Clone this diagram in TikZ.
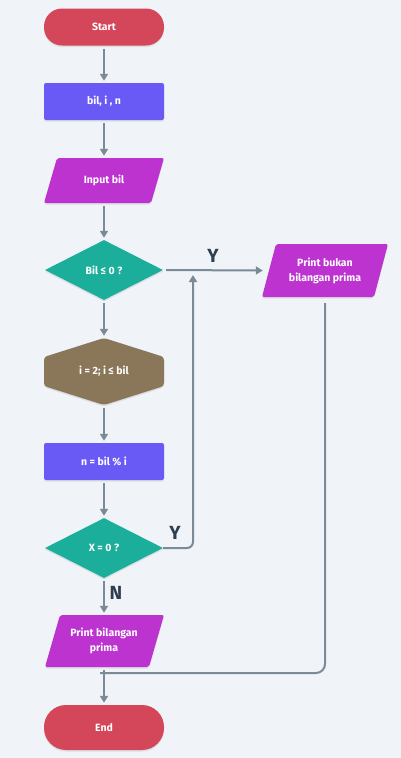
\documentclass[tikz,border=0pt]{standalone}
\usepackage{fontspec}
\setmainfont{Fira Sans}
\usetikzlibrary{shapes.geometric,arrows.meta,shadows}
\definecolor{bgc}{HTML}{F0F4F8}
\definecolor{termc}{HTML}{D4465A}
\definecolor{procc}{HTML}{6A5AF5}
\definecolor{ioc}{HTML}{BD33CF}
\definecolor{decc}{HTML}{1BAF9B}
\definecolor{loopc}{HTML}{8A7759}
\definecolor{arrc}{HTML}{7B8A97}
\definecolor{labc}{HTML}{2C3E50}
\begin{document}
\begin{tikzpicture}[x=1pt,y=-1pt,
  shad/.style={drop shadow={opacity=0.18,shadow xshift=0pt,shadow yshift=-1.5pt}},
  txt/.style={text=white,font=\bfseries\fontsize{10.5}{15}\selectfont,align=center,inner sep=0pt},
  term/.style={txt,shad,fill=termc,rounded corners=18pt,minimum width=120pt,minimum height=37pt},
  proc/.style={txt,shad,fill=procc,rounded corners=2pt,minimum width=120pt,minimum height=37pt},
  ioshape/.style={fill=ioc,shad,rounded corners=2pt},
  iotxt/.style={txt,minimum width=120pt},
  dec/.style={txt,shad,fill=decc,diamond,minimum width=118pt,minimum height=60pt},
  arr/.style={draw=arrc,line width=2pt,-{Triangle[length=7pt,width=8pt]},shorten >=2pt,shorten <=3pt},
  lin/.style={draw=arrc,line width=2pt},
  lab/.style={text=labc,font=\bfseries\fontsize{19}{20}\selectfont,inner sep=0pt}]
\fill[bgc] (0,0) rectangle (401,758);
\useasboundingbox (0,0) rectangle (401,758);

% shapes drawn as paths
\fill[ioshape] (57,158) -- (164,158) -- (151,203) -- (44,203) -- cycle;
\fill[loopc,shad,rounded corners=3pt] (104,338) -- (164,357) -- (164,386) -- (104,405) -- (44,386) -- (44,357) -- cycle;
\fill[ioshape] (60,615) -- (164,615) -- (149,667) -- (45,667) -- cycle;
\fill[ioshape] (276,244) -- (388,244) -- (374,297) -- (262,297) -- cycle;

\node[term] (start) at (104,27) {Start};
\node[proc] (vars) at (104,101.5) {bil, i , n};
\node[iotxt,minimum height=45pt] (inp) at (104,180.5) {Input bil};
\node[dec] (d1) at (104,270) {Bil ≤ 0 ?};
\node[txt,minimum width=120pt,minimum height=67pt] (loop) at (104,371.5) {i = 2; i ≤ bil};
\node[proc] (calc) at (104,461.5) {n = bil \% i};
\node[dec] (d2) at (104,548) {X = 0 ?};
\node[iotxt,minimum height=52pt] (pprima) at (104,641) {Print bilangan\\prima};
\node[term,minimum height=45pt,rounded corners=22pt] (end) at (104,727.5) {End};
\node[iotxt,minimum height=53pt,minimum width=126pt] (pbukan) at (325,270.5) {Print bukan\\bilangan prima};

\node[lab] (ly1) at (213,256) {Y};
\node[lab] (ly2) at (175,533) {Y};
\node[lab] (ln) at (116,593) {N};

\coordinate (yup) at (193,275);
\coordinate (join) at (100,673);

\draw[arr] (start) -- (vars);
\draw[arr] (vars) -- (inp);
\draw[arr] (inp) -- (d1);
\draw[arr] (d1) -- (loop);
\draw[arr] (loop) -- (calc);
\draw[arr] (calc) -- (d2);
\draw[arr] (d2) -- (pprima);
\draw[arr] (pprima) -- (end);
\draw[arr,shorten >=-1pt] (d1.east) -- (pbukan.west);
\draw[arr,rounded corners=6pt,shorten <=0pt,shorten >=0pt] (d2.east) -| (yup);
\draw[lin,rounded corners=9pt,shorten <=6pt] (pbukan.south) |- (join);
\end{tikzpicture}
\end{document}
